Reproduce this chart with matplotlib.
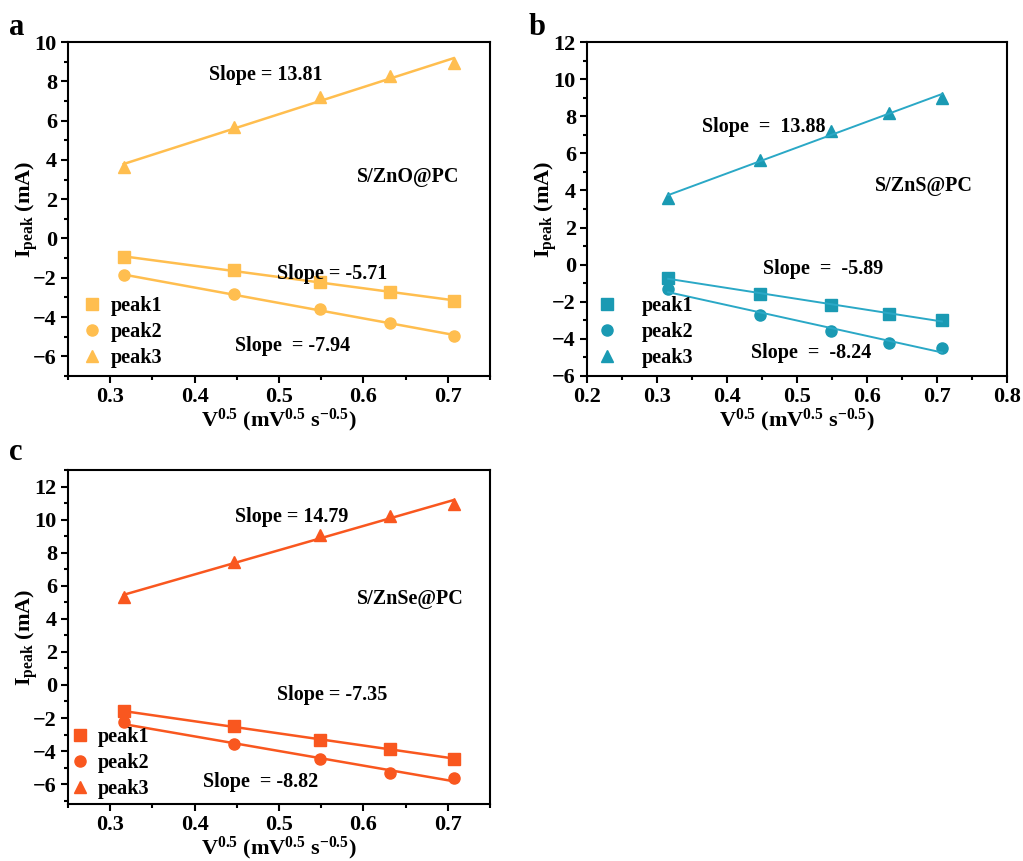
import numpy as np
import matplotlib
matplotlib.use("Agg")
import matplotlib.pyplot as plt
from matplotlib.ticker import MultipleLocator

plt.rcParams['font.family'] = ['Liberation Serif', 'DejaVu Serif']
plt.rcParams['font.weight'] = 'bold'
plt.rcParams['mathtext.fontset'] = 'custom'
plt.rcParams['mathtext.rm'] = 'Liberation Serif:bold'
plt.rcParams['mathtext.bf'] = 'Liberation Serif:bold'
plt.rcParams['mathtext.default'] = 'bf'

# vitesse de balayage^0.5
x = [0.316, 0.447, 0.548, 0.632, 0.707]

# a : S/ZnO@PC
a_peak1 = [-0.95, -1.62, -2.2, -2.72, -3.18]
a_peak2 = [-1.88, -2.85, -3.6, -4.28, -4.98]
a_peak3 = [3.65, 5.65, 7.2, 8.25, 8.95]

# b : S/ZnS@PC
b_peak1 = [-0.7, -1.6, -2.15, -2.65, -3.0]
b_peak2 = [-1.3, -2.7, -3.6, -4.2, -4.5]
b_peak3 = [3.6, 5.65, 7.2, 8.2, 9.0]

# c : S/ZnSe@PC
c_peak1 = [-1.6, -2.5, -3.3, -3.9, -4.45]
c_peak2 = [-2.25, -3.6, -4.5, -5.35, -5.6]
c_peak3 = [5.3, 7.45, 9.05, 10.2, 10.95]

labels = ['peak1', 'peak2', 'peak3']
markers = ['s', 'o', '^']

fig = plt.figure(figsize=(10.23, 8.61), dpi=100)
W, H = 1023, 861
FS = 16     # ticks, axis labels
FT = 14.5   # annotations, legend

def axes_px(left, top, right, bottom):
    return fig.add_axes([left / W, 1 - bottom / H, (right - left) / W, (bottom - top) / H])

def panel(ax, series, mcol, lcol, xlim, ylim, yticks, xticks, sample, sample_pos,
          slopes, legend_pos, lw=1.8, tpad=0.3):
    for ys, m, lab in zip(series, markers, labels):
        ax.plot(x, ys, m, color=mcol, ms=8, ls='none', label=lab)
        k, b = np.polyfit(x, ys, 1)
        xx = np.array([x[0], x[-1]])
        ax.plot(xx, k * xx + b, '-', color=lcol, lw=lw)
    ax.set_xlim(*xlim)
    ax.set_ylim(*ylim)
    ax.set_xticks(xticks)
    ax.set_yticks(yticks)
    ax.set_xticklabels([f"{t:g}" for t in xticks], fontweight='bold', fontsize=FS)
    ax.set_yticklabels([f"{t:g}".replace('-', '\u2212') for t in yticks],
                       fontweight='bold', fontsize=FS)
    ax.xaxis.set_minor_locator(MultipleLocator(0.05))
    ax.yaxis.set_minor_locator(MultipleLocator(1))
    ax.tick_params(which='both', direction='out', width=1.5, pad=3)
    ax.tick_params(which='major', length=5)
    ax.tick_params(which='minor', length=3)
    for s in ax.spines.values():
        s.set_linewidth(1.5)
    ax.set_xlabel(r'V$^{0.5}$ (mV$^{0.5}$ s$^{-0.5}$)', fontsize=FS, fontweight='bold',
                  labelpad=0)
    ax.set_ylabel(r'I$_{\mathbf{peak}}$ (mA)', fontsize=FS, fontweight='bold', labelpad=-5)
    ax.text(sample_pos[0], sample_pos[1], sample, fontsize=FT, fontweight='bold',
            transform=ax.transAxes)
    for (tx, ty, s) in slopes:
        ax.text(tx, ty, s, fontsize=FT, fontweight='bold', transform=ax.transAxes)
    ax.legend(loc='lower left', bbox_to_anchor=legend_pos, frameon=False,
              prop={'size': FT, 'weight': 'bold'}, handletextpad=tpad,
              labelspacing=0.3, handlelength=1.2, borderaxespad=0)

# a
ax1 = axes_px(68, 42, 490, 376)
panel(ax1, [a_peak1, a_peak2, a_peak3], '#FFBE4F', '#FFBE4F', (0.25, 0.75), (-7, 10),
      list(range(-6, 11, 2)), [0.3, 0.4, 0.5, 0.6, 0.7],
      'S/ZnO@PC', (0.685, 0.58),
      [(0.335, 0.885, 'Slope = 13.81'), (0.495, 0.29, 'Slope = -5.71'),
       (0.395, 0.075, 'Slope  = -7.94')],
      (0.01, 0.0))
ax1.text(-0.14, 1.02, 'a', transform=ax1.transAxes, fontsize=22, fontweight='bold')

# b
ax2 = axes_px(587, 42, 1007, 376)
panel(ax2, [b_peak1, b_peak2, b_peak3], '#1A9AB3', '#2AA8C6', (0.2, 0.8), (-6, 12),
      list(range(-6, 13, 2)), [0.2, 0.3, 0.4, 0.5, 0.6, 0.7, 0.8],
      'S/ZnS@PC', (0.685, 0.555),
      [(0.275, 0.73, 'Slope  =  13.88'), (0.42, 0.305, 'Slope  =  -5.89'),
       (0.39, 0.055, 'Slope  =  -8.24')],
      (0.0, 0.0), lw=1.4, tpad=1.1)
ax2.text(-0.14, 1.02, 'b', transform=ax2.transAxes, fontsize=22, fontweight='bold')

# c
ax3 = axes_px(68, 470, 490, 804)
panel(ax3, [c_peak1, c_peak2, c_peak3], '#F9571F', '#F9571F', (0.25, 0.75), (-7.2, 13),
      list(range(-6, 13, 2)), [0.3, 0.4, 0.5, 0.6, 0.7],
      'S/ZnSe@PC', (0.685, 0.6),
      [(0.395, 0.845, 'Slope = 14.79'), (0.495, 0.31, 'Slope = -7.35'),
       (0.32, 0.05, 'Slope  = -8.82')],
      (-0.02, -0.01))
ax3.text(-0.14, 1.03, 'c', transform=ax3.transAxes, fontsize=22, fontweight='bold')

fig.savefig('out.png', dpi=100)
